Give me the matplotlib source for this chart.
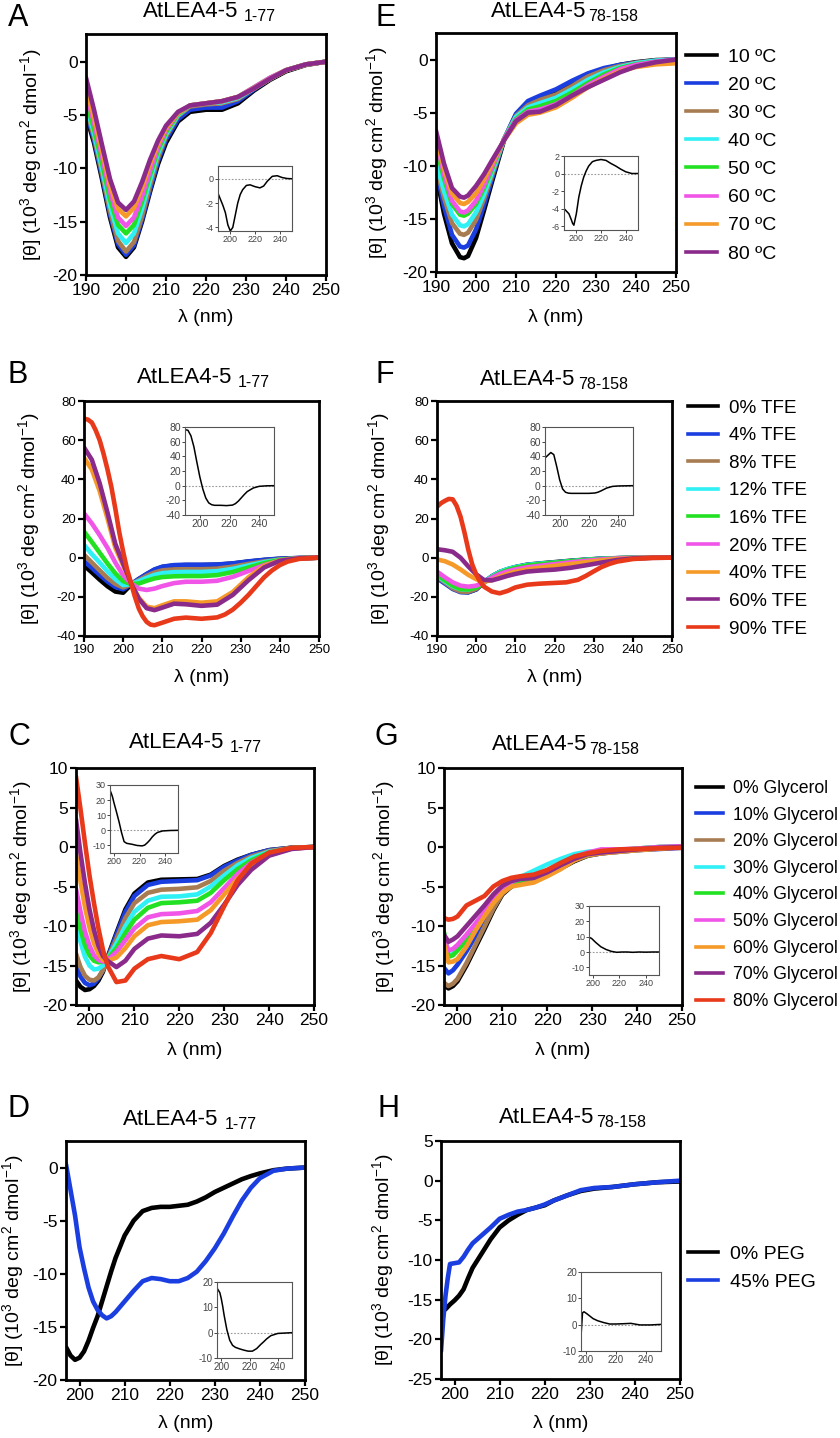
import matplotlib.pyplot as plt
from matplotlib.lines import Line2D

plt.rcParams['font.family'] = ['Liberation Sans', 'DejaVu Sans']
plt.rcParams['mathtext.fontset'] = 'custom'
plt.rcParams['mathtext.rm'] = 'Liberation Sans'
plt.rcParams['mathtext.it'] = 'Liberation Sans:italic'
plt.rcParams['axes.unicode_minus'] = False

W, H = 840, 1438

# colours used in every legend, in legend order
black, blue, brown, cyan = '#000000', '#1a3ee0', '#a87c52', '#2ef0f5'
green, pink, orange, purple, red = '#22e022', '#f055e8', '#f59a28', '#8a2a8a', '#e8391a'
cols8 = [black, blue, brown, cyan, green, pink, orange, purple]
cols9 = cols8 + [red]

temp_labels = ['10 ºC', '20 ºC', '30 ºC', '40 ºC', '50 ºC', '60 ºC', '70 ºC', '80 ºC']
tfe_labels = ['0% TFE', '4% TFE', '8% TFE', '12% TFE', '16% TFE', '20% TFE',
              '40% TFE', '60% TFE', '90% TFE']
gly_labels = ['0% Glycerol', '10% Glycerol', '20% Glycerol', '30% Glycerol', '40% Glycerol',
              '50% Glycerol', '60% Glycerol', '70% Glycerol', '80% Glycerol']
peg_labels = ['0% PEG', '45% PEG']

# ---- A: temperature, 1-77
a_x = [190, 192, 194, 196, 198, 200, 202, 204, 206, 208, 210, 213, 216, 220, 224, 228, 232, 236, 240, 245, 250]
a_y = [
    [-5.0, -7.6, -11.0, -14.6, -17.4, -18.3, -17.4, -15.0, -12.2, -9.6, -7.6, -5.6, -4.7, -4.5, -4.5, -3.9, -2.7, -1.7, -0.9, -0.3, 0.0],
    [-4.6, -7.3, -10.7, -14.3, -17.1, -18.1, -17.2, -14.8, -12.0, -9.3, -7.3, -5.4, -4.5, -4.3, -4.3, -3.7, -2.6, -1.6, -0.8, -0.25, 0.0],
    [-4.3, -7.0, -10.4, -14.0, -16.8, -17.8, -16.9, -14.5, -11.6, -9.0, -7.0, -5.1, -4.2, -4.0, -3.9, -3.5, -2.5, -1.6, -0.8, -0.25, 0.0],
    [-4.0, -6.7, -10.0, -13.5, -16.1, -17.0, -16.1, -13.8, -11.1, -8.6, -6.8, -5.0, -4.1, -3.9, -3.8, -3.4, -2.5, -1.6, -0.8, -0.25, 0.0],
    [-3.7, -6.3, -9.5, -12.9, -15.3, -16.1, -15.3, -13.1, -10.6, -8.3, -6.6, -4.9, -4.1, -3.9, -3.7, -3.3, -2.4, -1.5, -0.8, -0.25, 0.0],
    [-3.0, -5.7, -8.9, -12.2, -14.6, -15.4, -14.6, -12.6, -10.2, -8.0, -6.4, -4.8, -4.1, -3.9, -3.7, -3.3, -2.4, -1.5, -0.8, -0.25, 0.0],
    [-2.5, -5.2, -8.4, -11.6, -13.8, -14.5, -13.7, -11.8, -9.6, -7.7, -6.2, -4.8, -4.1, -3.9, -3.7, -3.3, -2.5, -1.6, -0.8, -0.25, 0.0],
    [-1.5, -4.5, -7.8, -11.0, -13.2, -13.9, -13.1, -11.3, -9.2, -7.4, -6.0, -4.7, -4.1, -3.9, -3.7, -3.3, -2.5, -1.6, -0.8, -0.25, 0.0],
]
a_in_x = [190, 192, 194, 196, 198, 200, 202, 204, 206, 208, 210, 213, 216, 220, 224, 227, 230, 234, 238, 242, 246, 250]
a_in_y = [-1.2, -1.7, -2.2, -2.8, -3.8, -4.3, -4.0, -3.0, -2.0, -1.3, -0.9, -0.55, -0.5, -0.65, -0.75, -0.6, -0.2, 0.2, 0.25, 0.1, 0.02, 0.0]

# ---- E: temperature, 78-158
e_x = [190, 192, 194, 196, 197, 198, 200, 202, 204, 207, 210, 213, 216, 220, 224, 228, 232, 236, 240, 245, 250]
e_y = [
    [-10.7, -14.5, -17.3, -18.6, -18.7, -18.5, -16.8, -14.2, -11.5, -7.6, -5.2, -4.0, -3.5, -2.9, -2.1, -1.4, -0.9, -0.5, -0.25, -0.05, 0.0],
    [-10.3, -13.8, -16.5, -17.6, -17.7, -17.5, -16.0, -13.7, -11.2, -7.5, -5.1, -3.9, -3.4, -2.8, -2.0, -1.3, -0.8, -0.5, -0.3, -0.1, 0.0],
    [-10.0, -13.0, -15.4, -16.4, -16.5, -16.3, -15.1, -13.1, -10.9, -7.5, -5.3, -4.3, -3.8, -3.3, -2.5, -1.6, -1.0, -0.6, -0.3, -0.1, 0.0],
    [-9.6, -12.4, -14.6, -15.6, -15.7, -15.5, -14.4, -12.7, -10.6, -7.5, -5.4, -4.5, -4.1, -3.6, -2.8, -1.9, -1.2, -0.7, -0.35, -0.1, 0.0],
    [-8.2, -11.2, -13.6, -14.6, -14.7, -14.5, -13.6, -12.1, -10.3, -7.5, -5.6, -4.7, -4.4, -3.9, -3.1, -2.2, -1.4, -0.8, -0.45, -0.2, -0.1],
    [-7.5, -10.8, -13.3, -14.3, -14.4, -14.2, -13.3, -11.8, -10.1, -7.5, -5.7, -4.9, -4.7, -4.2, -3.4, -2.4, -1.6, -0.9, -0.5, -0.2, 0.0],
    [-7.2, -10.3, -12.6, -13.5, -13.6, -13.4, -12.6, -11.3, -9.8, -7.6, -6.0, -5.2, -5.0, -4.5, -3.6, -2.6, -1.8, -1.1, -0.7, -0.45, -0.35],
    [-6.7, -9.8, -12.1, -12.9, -13.0, -12.8, -11.9, -10.8, -9.5, -7.6, -5.8, -5.0, -4.9, -4.3, -3.4, -2.6, -1.9, -1.2, -0.65, -0.25, 0.0],
]
e_in_x = [190, 192, 194, 196, 197, 198, 200, 202, 204, 206, 208, 210, 213, 216, 220, 224, 228, 232, 236, 240, 245, 250]
e_in_y = [-4.0, -4.3, -4.6, -5.3, -5.7, -5.9, -4.6, -2.7, -1.4, -0.4, 0.3, 0.85, 1.35, 1.5, 1.6, 1.5, 1.15, 0.85, 0.5, 0.2, 0.0, 0.0]

# ---- B: TFE, 1-77 (90% TFE read on a finer grid)
b_x = [190, 192, 194, 196, 198, 200, 202, 204, 206, 208, 210, 213, 216, 220, 224, 228, 232, 236, 240, 245, 250]
b_y = [
    [-4.0, -7.5, -11.2, -14.6, -17.3, -17.9, -13.8, -11.0, -8.5, -6.2, -4.8, -4.0, -3.8, -3.8, -3.6, -3.0, -2.0, -1.2, -0.6, -0.2, 0.0],
    [-1.8, -5.2, -8.8, -12.2, -15.0, -16.2, -13.5, -10.8, -8.3, -6.0, -4.6, -3.8, -3.6, -3.6, -3.5, -2.9, -1.9, -1.1, -0.5, -0.15, 0.0],
    [1.5, -2.5, -6.5, -10.4, -13.4, -15.2, -13.6, -11.5, -9.3, -7.6, -6.5, -6.0, -5.9, -5.9, -5.6, -4.6, -3.2, -1.9, -0.9, -0.3, 0.0],
    [6.5, 1.8, -2.5, -7.0, -11.0, -14.0, -13.5, -12.0, -10.3, -8.8, -7.9, -7.4, -7.3, -7.3, -6.9, -5.7, -4.0, -2.3, -1.1, -0.3, 0.0],
    [13.3, 8.0, 2.5, -3.0, -8.0, -12.0, -13.5, -13.2, -11.8, -10.6, -9.9, -9.5, -9.4, -9.4, -8.9, -7.3, -5.0, -2.8, -1.2, -0.3, 0.0],
    [22.6, 17.5, 11.5, 5.0, -2.5, -9.0, -13.2, -15.8, -16.5, -15.8, -14.5, -13.0, -12.3, -12.3, -11.8, -9.8, -6.8, -3.8, -1.6, -0.4, 0.0],
    [51.0, 45.0, 34.0, 20.0, 5.0, -4.0, -13.0, -20.5, -25.0, -25.8, -24.3, -22.3, -22.3, -23.0, -22.3, -17.5, -10.0, -4.2, -1.4, -0.3, 0.0],
    [56.3, 50.0, 38.0, 23.0, 7.0, -3.0, -13.0, -21.0, -25.8, -26.8, -25.5, -23.5, -23.8, -24.6, -24.0, -19.0, -11.5, -5.0, -1.6, -0.3, 0.0],
]
b_red_x = [190, 191, 192, 193, 194, 195, 196, 197, 198, 199, 200, 201, 202, 203, 204, 205, 206, 207, 208, 210,
           213, 216, 220, 224, 226, 228, 230, 232, 234, 236, 238, 240, 242, 245, 250]
b_red_y = [71.0, 70.5, 69.0, 65.0, 60.0, 53.0, 45.0, 36.0, 25.0, 13.0, 3.0, -6.0, -13.0, -20.0, -26.0, -30.0,
           -32.8, -34.2, -34.5, -33.2, -31.2, -30.6, -31.2, -30.5, -29.0, -26.5, -23.0, -19.0, -14.5, -10.0,
           -6.5, -3.8, -2.0, -0.6, 0.0]
b_in_x = [190, 192, 194, 196, 198, 200, 202, 204, 206, 208, 210, 214, 218, 222, 224, 226, 228, 230, 232, 236, 240, 245, 250]
b_in_y = [76.4, 75.5, 68.0, 53.0, 32.0, 12.0, -4.5, -16.8, -23.5, -26.0, -26.8, -26.8, -27.2, -26.5, -24.5, -21.0, -16.5, -12.0, -8.0, -3.2, -0.9, -0.2, 0.0]

# ---- F: TFE, 78-158 (90% TFE read on a finer grid)
f_x = [190, 192, 194, 196, 198, 200, 202, 204, 206, 208, 210, 213, 216, 220, 224, 228, 232, 236, 240, 245, 250]
f_y = [
    [-9.7, -12.5, -15.5, -17.4, -17.6, -16.2, -12.5, -9.5, -7.3, -5.9, -4.8, -3.6, -3.0, -2.3, -1.6, -1.0, -0.5, -0.25, -0.1, 0.0, 0.0],
    [-10.5, -13.2, -16.0, -17.6, -17.7, -16.2, -12.6, -9.6, -7.4, -6.0, -4.9, -3.8, -3.2, -2.5, -1.8, -1.1, -0.6, -0.3, -0.1, 0.0, 0.0],
    [-9.8, -12.6, -15.6, -17.3, -17.4, -15.9, -12.6, -9.8, -7.6, -6.2, -5.2, -4.1, -3.5, -2.8, -2.0, -1.3, -0.7, -0.3, -0.1, 0.0, 0.0],
    [-9.2, -12.0, -14.6, -16.1, -16.2, -15.0, -12.4, -9.6, -7.3, -5.8, -4.8, -3.7, -3.1, -2.5, -1.8, -1.1, -0.6, -0.3, -0.1, 0.0, 0.0],
    [-8.8, -11.5, -14.2, -16.0, -16.2, -15.3, -12.8, -10.0, -7.8, -6.3, -5.2, -4.0, -3.4, -2.6, -1.9, -1.2, -0.7, -0.3, -0.1, 0.0, 0.0],
    [-7.1, -10.0, -12.6, -14.3, -14.8, -14.3, -12.5, -10.2, -8.3, -7.0, -6.0, -4.9, -4.2, -3.3, -2.4, -1.6, -0.9, -0.4, -0.15, 0.0, 0.0],
    [-0.9, -1.8, -3.5, -6.0, -8.8, -11.0, -12.2, -11.5, -9.8, -8.3, -7.2, -6.0, -5.2, -4.2, -3.3, -2.3, -1.4, -0.7, -0.3, -0.05, 0.0],
    [4.3, 3.8, 3.0, 0.0, -4.5, -8.5, -11.4, -11.6, -10.5, -9.3, -8.3, -7.1, -6.6, -6.1, -5.2, -3.9, -2.5, -1.2, -0.4, -0.1, 0.0],
]
f_red_x = [190, 191, 192, 193, 194, 195, 196, 197, 198, 199, 200, 201, 202, 204, 206, 208, 210, 213, 216, 220,
           223, 226, 228, 230, 232, 234, 236, 240, 245, 250]
f_red_y = [26.0, 27.8, 29.0, 30.0, 29.8, 26.5, 21.0, 13.0, 4.0, -3.5, -8.5, -12.2, -14.8, -17.3, -18.2, -17.0,
           -15.2, -13.8, -13.3, -12.9, -12.6, -11.3, -9.3, -7.0, -4.8, -3.2, -2.0, -0.7, -0.1, 0.0]
f_in_x = [190, 192, 194, 196, 198, 200, 202, 204, 206, 208, 212, 216, 220, 224, 226, 228, 230, 232, 236, 240, 250]
f_in_y = [37.7, 41.5, 45.2, 42.3, 26.0, 8.0, -4.5, -9.0, -10.2, -10.5, -10.5, -10.5, -10.5, -10.0, -9.0, -7.3, -5.3, -3.3, -1.0, -0.4, 0.0]

# ---- C: glycerol, 1-77
c_x = [197, 198, 199, 200, 201, 202, 203, 204, 206, 208, 210, 213, 216, 220, 224, 227, 230, 233, 236, 240, 245, 250]
c_y = [
    [-16.9, -17.7, -18.1, -18.0, -17.6, -16.9, -15.8, -14.0, -10.9, -7.9, -5.9, -4.5, -4.15, -4.1, -4.05, -3.5, -2.4, -1.6, -1.0, -0.4, -0.1, 0.0],
    [-15.0, -16.4, -17.2, -17.5, -17.3, -16.6, -15.6, -14.1, -11.1, -8.2, -6.2, -4.8, -4.4, -4.3, -4.2, -3.6, -2.5, -1.7, -1.0, -0.4, -0.1, 0.0],
    [-13.5, -15.2, -16.3, -16.8, -16.9, -16.5, -15.6, -14.2, -11.6, -9.0, -7.1, -5.8, -5.4, -5.3, -5.1, -4.3, -3.0, -2.0, -1.2, -0.5, -0.1, 0.0],
    [-9.7, -12.0, -13.9, -15.0, -15.5, -15.4, -15.0, -14.2, -12.2, -10.0, -8.2, -6.8, -6.3, -6.25, -6.0, -5.0, -3.6, -2.3, -1.4, -0.6, -0.15, 0.0],
    [-8.1, -10.4, -12.4, -13.7, -14.4, -14.6, -14.5, -14.2, -12.8, -10.9, -9.2, -7.7, -7.1, -7.0, -6.8, -5.8, -4.2, -2.8, -1.7, -0.7, -0.15, 0.0],
    [-5.3, -8.2, -10.7, -12.5, -13.7, -14.3, -14.5, -14.3, -13.3, -11.8, -10.3, -8.9, -8.5, -8.4, -8.1, -7.0, -5.2, -3.4, -2.0, -0.8, -0.2, 0.0],
    [-0.85, -4.4, -7.6, -10.2, -12.2, -13.5, -14.3, -14.4, -14.0, -12.8, -11.3, -9.9, -9.5, -9.4, -9.2, -8.0, -6.0, -4.0, -2.4, -0.9, -0.2, 0.0],
    [3.5, -0.8, -4.6, -7.9, -10.5, -12.5, -13.8, -14.4, -15.2, -14.4, -12.9, -11.6, -11.2, -11.3, -11.0, -9.6, -7.3, -4.8, -2.9, -1.1, -0.25, 0.0],
    [8.9, 4.8, 0.5, -3.6, -7.1, -10.3, -13.0, -15.0, -17.1, -16.9, -15.4, -14.2, -13.8, -14.2, -13.3, -10.9, -7.5, -4.2, -2.1, -0.7, -0.1, 0.0],
]
c_in_x = [197, 198, 199, 200, 202, 204, 206, 208, 210, 214, 218, 222, 224, 226, 228, 230, 232, 234, 238, 244, 250]
c_in_y = [26.6, 24.5, 22.0, 18.5, 12.3, 5.8, -1.5, -7.5, -8.6, -9.2, -10.0, -10.3, -9.8, -8.3, -6.5, -4.3, -2.6, -1.4, -0.4, -0.1, 0.0]

# ---- G: glycerol, 78-158
g_x = [197, 198, 199, 200, 202, 204, 206, 208, 210, 212, 214, 217, 220, 223, 226, 229, 232, 236, 240, 245, 250]
g_y = [
    [-17.5, -17.9, -17.6, -17.0, -15.0, -12.7, -10.4, -8.0, -6.0, -5.0, -4.5, -4.1, -3.6, -2.7, -1.8, -1.1, -0.8, -0.5, -0.35, -0.1, 0.1],
    [-15.3, -16.0, -15.6, -14.9, -13.2, -11.3, -9.3, -7.4, -5.8, -4.8, -4.3, -3.9, -3.3, -2.4, -1.6, -1.0, -0.8, -0.6, -0.4, -0.25, -0.1],
    [-17.2, -17.6, -17.3, -16.7, -14.7, -12.4, -10.1, -7.8, -5.9, -4.9, -4.4, -4.0, -3.5, -2.6, -1.7, -1.1, -0.8, -0.6, -0.4, -0.2, 0.0],
    [-11.0, -13.8, -13.5, -12.8, -11.5, -10.0, -8.4, -6.8, -5.4, -4.4, -3.8, -3.0, -2.2, -1.5, -0.9, -0.6, -0.5, -0.4, -0.2, 0.0, 0.1],
    [-10.8, -13.9, -13.7, -13.1, -11.8, -10.3, -8.6, -7.0, -5.6, -4.7, -4.2, -3.8, -3.2, -2.4, -1.6, -1.0, -0.6, -0.4, -0.2, 0.0, 0.0],
    [-11.6, -13.1, -12.9, -12.4, -11.1, -9.7, -8.2, -6.7, -5.3, -4.4, -4.0, -3.7, -3.0, -2.1, -1.3, -0.7, -0.3, -0.3, -0.2, 0.0, 0.1],
    [-12.3, -14.6, -14.5, -14.2, -12.6, -10.6, -8.8, -7.1, -5.8, -5.0, -4.8, -4.5, -3.7, -2.8, -1.7, -1.0, -0.8, -0.6, -0.4, -0.2, 0.0],
    [-11.1, -12.0, -11.7, -11.3, -10.0, -8.7, -7.4, -6.0, -4.9, -4.3, -4.05, -3.9, -3.2, -2.3, -1.5, -0.9, -0.7, -0.5, -0.3, -0.1, 0.0],
    [-9.0, -9.2, -9.1, -8.8, -7.4, -6.8, -6.2, -5.0, -4.3, -3.9, -3.7, -3.5, -2.9, -2.0, -1.2, -0.8, -0.5, -0.3, -0.25, -0.15, -0.1],
]
g_in_x = [197, 199, 202, 206, 210, 214, 218, 222, 226, 230, 235, 240, 245, 250]
g_in_y = [9.7, 8.8, 6.3, 3.4, 1.6, 0.4, -0.2, 0.0, 0.0, -0.2, 0.0, -0.1, 0.0, 0.0]

# ---- D: PEG, 1-77
d_x = [197, 198, 199, 200, 201, 202, 203, 204, 205, 206, 207, 208, 210, 212, 214, 216, 218, 220, 222, 224,
       226, 228, 230, 232, 234, 236, 238, 240, 243, 246, 250]
d_y = [
    [-16.9, -17.7, -18.1, -17.9, -17.3, -16.3, -15.1, -14.0, -12.6, -11.2, -9.8, -8.5, -6.4, -5.0, -4.1, -3.8,
     -3.7, -3.7, -3.6, -3.5, -3.2, -2.8, -2.3, -1.9, -1.5, -1.1, -0.8, -0.55, -0.25, -0.1, 0.0],
    [0.3, -2.1, -4.5, -7.5, -9.5, -11.3, -12.6, -13.4, -13.9, -14.2, -14.0, -13.6, -12.6, -11.6, -10.7, -10.4,
     -10.5, -10.7, -10.7, -10.4, -9.8, -8.8, -7.6, -6.2, -4.6, -3.1, -1.9, -1.0, -0.3, -0.1, 0.0],
]
d_in_x = [197, 199, 200, 201, 202, 203, 204, 206, 208, 210, 213, 216, 219, 222, 225, 228, 230, 232, 235, 240, 250]
d_in_y = [17.6, 15.8, 13.5, 10.5, 7.0, 4.0, 1.1, -3.0, -5.0, -5.8, -6.4, -6.9, -7.3, -7.3, -6.3, -4.6, -3.6, -2.5, -1.2, -0.3, 0.0]

# ---- H: PEG, 78-158
h_x = [197, 197.5, 198, 198.5, 199, 200, 201, 202, 203, 204, 206, 208, 210, 212, 214, 216, 218, 220, 222, 225,
       228, 231, 235, 240, 245, 250]
h_y = [
    [-16.6, -16.4, -16.2, -15.9, -15.6, -15.1, -14.5, -13.7, -12.3, -11.0, -9.2, -7.4, -5.9, -5.0, -4.3, -3.7,
     -3.4, -3.1, -2.5, -1.85, -1.3, -1.0, -0.8, -0.45, -0.2, -0.1],
    [-21.5, -17.5, -14.5, -12.3, -10.5, -10.4, -10.3, -9.6, -8.7, -7.9, -6.9, -5.9, -4.8, -4.3, -3.9, -3.7,
     -3.4, -3.0, -2.5, -1.85, -1.2, -0.92, -0.8, -0.45, -0.2, 0.0],
]
h_in_x = [197, 198, 199, 201, 203, 205, 208, 212, 216, 220, 225, 230, 236, 243, 250]
h_in_y = [-4.5, 4.5, 4.9, 4.1, 3.2, 2.3, 1.5, 0.8, 0.25, 0.25, 0.35, 0.5, -0.1, -0.1, 0.1]

ylab = '[θ] (10$^3$ deg cm$^2$ dmol$^{-1}$)'

fig = plt.figure(figsize=(8.4, 14.38), dpi=100)
renderer = fig.canvas.get_renderer()


def box(l, t, r, b):
    return [l / W, 1 - b / H, (r - l) / W, (b - t) / H]


def main_panel(pos, xs, ys, cols, xlim, ylim, xticks, yticks, fs, ylx, xly):
    ax = fig.add_axes(box(*pos))
    for x, y, c in zip(xs, ys, cols):
        ax.plot(x, y, color=c, lw=3.3, solid_joinstyle='round', solid_capstyle='round')
    ax.set_xlim(xlim)
    ax.set_ylim(ylim)
    ax.set_xticks(xticks)
    ax.set_yticks(yticks)
    ax.tick_params(direction='out', length=4, width=1.6, labelsize=fs, pad=2)
    for s in ax.spines.values():
        s.set_linewidth(2)
    ax.set_xlabel('λ (nm)', fontsize=14)
    ax.set_ylabel(ylab, fontsize=14)
    ax.xaxis.set_label_coords(0.5, xly)
    ax.yaxis.set_label_coords(ylx, 0.5)
    return ax


def inset(pos, x, y, xlim, ylim, xticks, yticks, fs):
    ax = fig.add_axes(box(*pos))
    ax.axhline(0, color='#999999', lw=0.8, ls=(0, (1.5, 1.5)))
    ax.plot(x, y, color='k', lw=1.1)
    ax.set_xlim(xlim)
    ax.set_ylim(ylim)
    ax.set_xticks(xticks)
    ax.set_yticks(yticks)
    ax.tick_params(direction='out', length=2, width=0.7, labelsize=fs, pad=1,
                   colors='#444444')
    for s in ax.spines.values():
        s.set_linewidth(0.8)
        s.set_color('#555555')


def title(cx, base, sub, gap):
    t1 = fig.text(0, 0, 'AtLEA4-5', fontsize=16, va='baseline')
    t2 = fig.text(0, 0, sub, fontsize=11.5, va='baseline')
    w1 = t1.get_window_extent(renderer).width
    w2 = t2.get_window_extent(renderer).width
    start = cx - (w1 + gap + w2) / 2
    t1.set_position((start / W, 1 - base / H))
    t2.set_position(((start + w1 + gap) / W, 1 - (base + 4) / H))


def letter(ch, x, base):
    fig.text(x / W, 1 - base / H, ch, fontsize=22, va='baseline')


def legend(cols, labels, x, top, fs, hl, pad, spacing):
    handles = [Line2D([], [], color=c, lw=2.6) for c in cols]
    fig.legend(handles, labels, loc='upper left', bbox_to_anchor=(x / W, 1 - top / H),
               bbox_transform=fig.transFigure, frameon=False, fontsize=fs,
               handlelength=hl, handletextpad=pad, labelspacing=spacing,
               borderpad=0, borderaxespad=0)


wide = [190, 200, 210, 220, 230, 240, 250]
narrow = [200, 210, 220, 230, 240, 250]

# row 1
main_panel((86, 34, 326, 275), [a_x] * 8, a_y, cols8, (190, 250), (-20, 2.6), wide,
           [0, -5, -10, -15, -20], 12.5, -0.175, -0.141)
inset((218, 166, 292, 231), a_in_x, a_in_y, (190, 250), (-4.3, 1.05), [200, 220, 240], [0, -2, -4], 6.5)
main_panel((436, 33, 676, 272), [e_x] * 8, e_y, cols8, (190, 250), (-20, 2.5), wide,
           [0, -5, -10, -15, -20], 12.5, -0.19, -0.154)
inset((564, 156, 638, 230), e_in_x, e_in_y, (190, 250), (-6.45, 2.0), [200, 220, 240], [2, 0, -2, -4, -6], 6.5)
legend(cols8, temp_labels, 686, 48.2, 14, 1.6, 0.57, 0.54)

# row 2
main_panel((84, 401, 319, 636), [b_x] * 8 + [b_red_x], b_y + [b_red_y], cols9, (190, 250), (-40, 80), wide,
           [-40, -20, 0, 20, 40, 60, 80], 9.5, -0.179, -0.14)
inset((185, 427, 274, 515), b_in_x, b_in_y, (190, 250), (-40, 80), [200, 220, 240],
      [-40, -20, 0, 20, 40, 60, 80], 7.5)
main_panel((437, 401, 672, 636), [f_x] * 8 + [f_red_x], f_y + [f_red_y], cols9, (190, 250), (-40, 80), wide,
           [-40, -20, 0, 20, 40, 60, 80], 9.5, -0.19, -0.14)
inset((545, 427, 633, 515), f_in_x, f_in_y, (190, 250), (-40, 80), [200, 220, 240],
      [-40, -20, 0, 20, 40, 60, 80], 7.5)
legend(cols9, tfe_labels, 688, 399.4, 13.6, 1.59, 0.58, 0.55)

# row 3
main_panel((76, 768, 314, 1005), [c_x] * 9, c_y, cols9, (197, 250), (-20, 10), narrow,
           [-20, -15, -10, -5, 0, 5, 10], 12.5, -0.176, -0.156)
inset((110, 785, 178, 853), c_in_x, c_in_y, (197, 250), (-15, 30), [200, 220, 240], [-10, 0, 10, 20, 30], 6.5)
main_panel((444, 768, 682, 1005), [g_x] * 9, g_y, cols9, (197, 250), (-20, 10), narrow,
           [-20, -15, -10, -5, 0, 5, 10], 12.5, -0.197, -0.156)
inset((589, 906, 659, 975), g_in_x, g_in_y, (197, 250), (-15, 30), [200, 220, 240], [-10, 0, 10, 20, 30], 6.5)
legend(cols9, gly_labels, 696, 780, 12.7, 1.53, 0.57, 0.545)

# row 4
main_panel((66, 1141, 305, 1380), [d_x] * 2, d_y, [black, blue], (197, 250), (-20, 2.5), narrow,
           [0, -5, -10, -15, -20], 12.5, -0.168, -0.146)
inset((217, 1282, 292, 1358), d_in_x, d_in_y, (197, 250), (-10, 20), [200, 220, 240], [-10, 0, 10, 20], 7)
main_panel((441, 1141, 680, 1379), [h_x] * 2, h_y, [black, blue], (197, 250), (-25, 5), narrow,
           [5, 0, -5, -10, -15, -20, -25], 12.5, -0.19, -0.151)
inset((581, 1272, 661, 1351), h_in_x, h_in_y, (197, 250), (-10, 20), [200, 220, 240], [-10, 0, 10, 20], 7)
legend([black, blue], peg_labels, 688, 1245, 14, 1.54, 0.62, 0.53)

# titles and panel letters
title(209.5, 17, '1-77', 6)
title(564.5, 17, '78-158', 2)
title(203.5, 383, '1-77', 6)
title(554, 385, '78-158', 2)
title(195.5, 748, '1-77', 6)
title(565.5, 750, '78-158', 2)
title(190, 1125, '1-77', 6)
title(572.5, 1123, '78-158', 2)

for ch, x, base in [('A', 8, 26), ('B', 7, 383), ('C', 8, 745), ('D', 8, 1117),
                    ('E', 375, 26), ('F', 375, 383), ('G', 375, 745), ('H', 377, 1117)]:
    letter(ch, x, base)

fig.savefig('out.png', dpi=100)
